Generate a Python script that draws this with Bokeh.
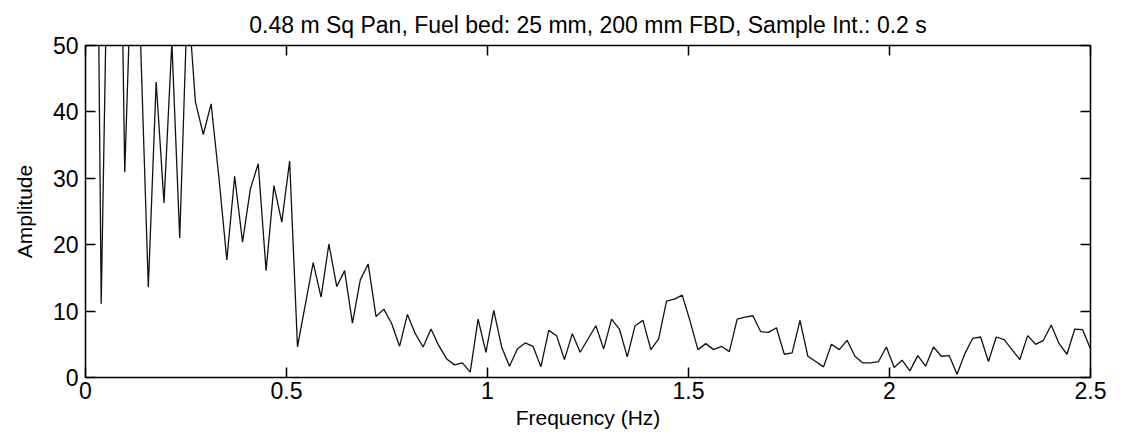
from bokeh.plotting import figure
from bokeh.models import Range1d, LinearAxis, FixedTicker
from bokeh.embed import file_html
from bokeh.resources import INLINE

# ---- data ----
title_text = "0.48 m Sq Pan, Fuel bed: 25 mm, 200 mm FBD, Sample Int.: 0.2 s"
x_label = "Frequency (Hz)"
y_label = "Amplitude"
sample_int = 0.2      # s
n_fft = 256           # FFT length

amplitude = [
    120, 140, 11.1, 80, 110, 30.9, 68, 51, 13.6, 44.5,
    26.3, 50.5, 21.0, 58, 41.5, 36.6, 41.2, 30, 17.7, 30.3,
    20.4, 28.4, 32.2, 16.1, 28.9, 23.4, 32.6, 4.6, 11.0, 17.3,
    12.1, 20.1, 13.7, 16.1, 8.2, 14.7, 17.1, 9.2, 10.3, 8.1,
    4.7, 9.5, 6.6, 4.6, 7.3, 4.8, 2.8, 1.9, 2.2, 0.8,
    8.8, 3.8, 10.1, 4.6, 1.7, 4.3, 5.2, 4.7, 1.6, 7.1,
    6.3, 2.7, 6.6, 3.8, 5.8, 7.8, 4.3, 8.8, 7.3, 3.1,
    7.8, 8.6, 4.2, 5.8, 11.5, 11.8, 12.4, 8.5, 4.2, 5.1,
    4.2, 4.7, 3.9, 8.8, 9.1, 9.3, 6.9, 6.8, 7.5, 3.5,
    3.7, 8.6, 3.2, 2.4, 1.6, 5.0, 4.2, 5.6, 3.2, 2.2,
    2.2, 2.4, 4.6, 1.5, 2.6, 1.0, 3.3, 1.7, 4.6, 3.2,
    3.3, 0.5, 3.6, 5.9, 6.1, 2.4, 6.1, 5.7, 4.2, 2.7,
    6.3, 5.0, 5.6, 7.9, 5.1, 3.5, 7.3, 7.2, 4.3,
]
frequency = [k / (n_fft * sample_int) for k in range(len(amplitude))]

x_ticks = [0, 0.5, 1, 1.5, 2, 2.5]
x_tick_labels = ["0", "0.5", "1", "1.5", "2", "2.5"]
y_ticks = [0, 10, 20, 30, 40, 50]
y_tick_labels = ["0", "10", "20", "30", "40", "50"]

FONT = "Liberation Sans"

p = figure(width=1126, height=432, output_backend="svg", toolbar_location=None,
           x_range=Range1d(0, 2.5), y_range=Range1d(0, 50),
           min_border_left=85, min_border_right=36, min_border_top=45,
           min_border_bottom=55, x_axis_label=x_label, y_axis_label=y_label)

p.title.text = title_text
p.title.align = "center"
p.title.offset = -8
p.title.standoff = 16
p.title.text_font = FONT
p.title.text_font_size = "23px"
p.title.text_font_style = "normal"
p.title.text_color = "black"

p.line(frequency, amplitude, line_color="#111111", line_width=1.3)

p.grid.visible = False
p.outline_line_color = "black"
p.outline_line_width = 1.5
p.outline_line_alpha = 1.0
p.background_fill_color = "white"
p.border_fill_color = "white"

def style_axis(ax, ticks, labels):
    ax.ticker = FixedTicker(ticks=ticks)
    ax.major_label_overrides = {t: l for t, l in zip(ticks, labels)}
    ax.axis_line_color = None
    ax.major_tick_in = 10
    ax.major_tick_out = 0
    ax.major_tick_line_color = "black"
    ax.major_tick_line_width = 1.5
    ax.minor_tick_line_color = None
    ax.major_label_text_font = FONT
    ax.major_label_text_font_size = "23px"
    ax.major_label_text_color = "black"
    ax.axis_label_text_font = FONT
    ax.axis_label_text_font_size = "21px"
    ax.axis_label_text_font_style = "normal"
    ax.axis_label_text_color = "black"

style_axis(p.xaxis[0], x_ticks, x_tick_labels)
style_axis(p.yaxis[0], y_ticks, y_tick_labels)
p.xaxis[0].major_label_standoff = 4
p.xaxis[0].axis_label_standoff = 4
p.yaxis[0].major_label_standoff = 7
p.yaxis[0].axis_label_standoff = 14

top = LinearAxis()
right = LinearAxis()
for ax, t in ((top, x_ticks), (right, y_ticks)):
    ax.ticker = FixedTicker(ticks=t)
    ax.axis_line_color = None
    ax.major_tick_in = 10
    ax.major_tick_out = 0
    ax.major_tick_line_color = "black"
    ax.major_tick_line_width = 1.5
    ax.minor_tick_line_color = None
    ax.major_label_text_font_size = "1px"
    ax.major_label_text_color = None
    ax.major_label_standoff = 0
p.add_layout(top, "above")
p.add_layout(right, "right")

open("out.html", "w").write(file_html(p, INLINE))
